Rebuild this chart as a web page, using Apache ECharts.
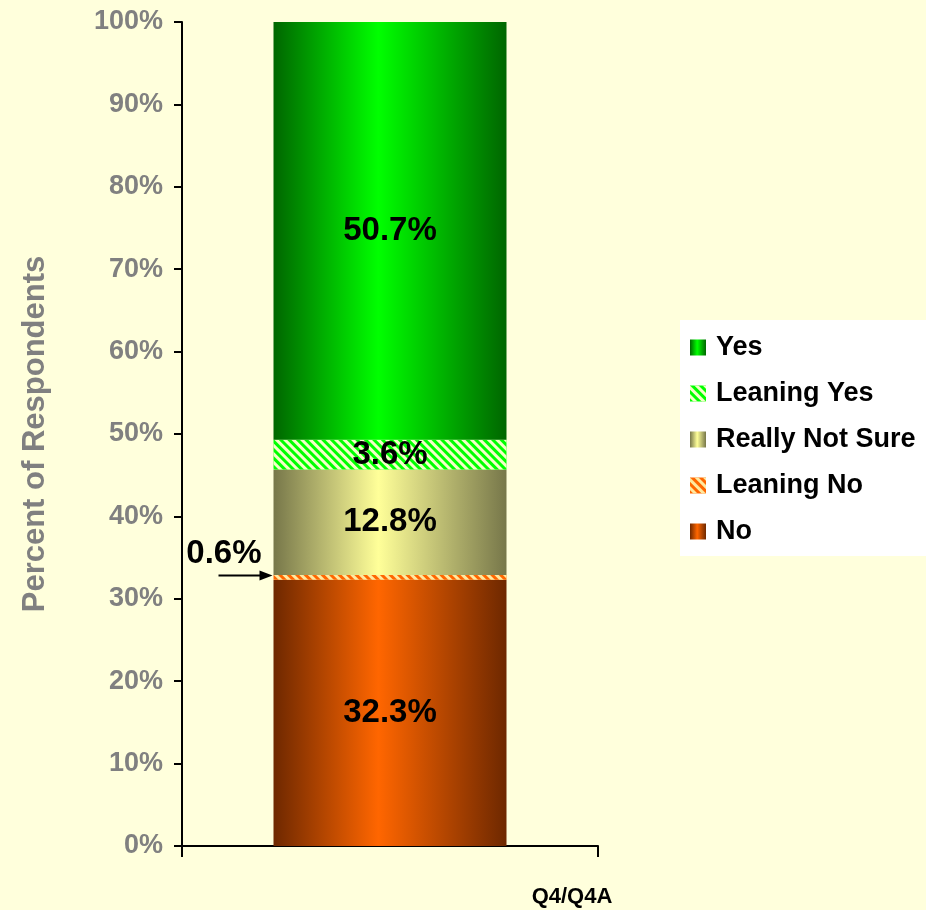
<!DOCTYPE html>
<html>
<head>
<meta charset="utf-8">
<script src="https://cdn.jsdelivr.net/npm/echarts@6/dist/echarts.min.js"></script>
<style>html,body{margin:0;padding:0;background:#FFFFDC;}#c{width:926px;height:910px;}</style>
</head>
<body>
<div id="c"></div>
<script>
// ---- data ----
const categories = ['Q4/Q4A'];
const seriesNames = ['No', 'Leaning No', 'Really Not Sure', 'Leaning Yes', 'Yes'];
const noVals = [32.3];
const leaningNoVals = [0.6];
const notSureVals = [12.8];
const leaningYesVals = [3.6];
const yesVals = [50.7];
const yTicks = [0, 10, 20, 30, 40, 50, 60, 70, 80, 90, 100];

const FONT = 'Arial, "Liberation Sans", sans-serif';
function grad(dark, bright) {
  return { type: 'linear', x: 0, y: 0, x2: 1, y2: 0,
    colorStops: [{ offset: 0, color: dark }, { offset: 0.45, color: bright }, { offset: 1, color: dark }] };
}
function hatch(col) {
  return { symbol: 'rect', symbolSize: 1, color: col, dashArrayX: [1, 0], dashArrayY: [3, 3], rotation: Math.PI / 4 };
}
const labelCommon = { show: true, position: 'inside', color: '#000', fontFamily: FONT, fontWeight: 'bold', fontSize: 33,
  formatter: p => p.value.toFixed(1) + '%' };

const chart = echarts.init(document.getElementById('c'), null, { renderer: 'canvas' });
const option = {
  backgroundColor: '#FFFFDC',
  animation: false,
  grid: { left: 182, right: 328, top: 22, bottom: 64, containLabel: false },
  legend: {
    orient: 'vertical', left: 680, top: 320,
    backgroundColor: '#FFFFFF', padding: [14, 20, 11, 10],
    itemWidth: 16, itemHeight: 16, itemGap: 19,
    data: seriesNames.slice().reverse(),
    textStyle: { fontFamily: FONT, fontWeight: 'bold', fontSize: 27, color: '#000', lineHeight: 24, padding: [0, 0, 0, 5] },
    icon: 'rect'
  },
  xAxis: {
    type: 'category', data: categories,
    axisLine: { lineStyle: { color: '#000', width: 2 } },
    axisTick: { show: true, length: 11, lineStyle: { color: '#000', width: 2 } },
    axisLabel: { show: false },
    name: categories[0], nameLocation: 'end', nameGap: -26,
    nameTextStyle: { fontFamily: FONT, fontWeight: 'bold', fontSize: 22, color: '#000', align: 'center', verticalAlign: 'top', padding: [40, 0, 0, 0] }
  },
  yAxis: {
    type: 'value', min: yTicks[0], max: yTicks[yTicks.length - 1], interval: 10,
    axisLine: { show: true, lineStyle: { color: '#000', width: 2 } },
    axisTick: { show: true, length: 8, lineStyle: { color: '#000', width: 2 } },
    splitLine: { show: false },
    axisLabel: { formatter: '{value}%', margin: 19, color: '#808080', fontFamily: FONT, fontWeight: 'bold', fontSize: 27 },
    name: 'Percent of Respondents', nameLocation: 'middle', nameGap: 131,
    nameTextStyle: { color: '#808080', fontFamily: FONT, fontWeight: 'bold', fontSize: 31 }
  },
  series: [
    { name: seriesNames[0], type: 'bar', stack: 'total', barWidth: 233, data: noVals,
      itemStyle: { color: grad('#6E2800', '#FF6600') }, label: labelCommon },
    { name: seriesNames[1], type: 'bar', stack: 'total', data: leaningNoVals,
      itemStyle: { color: '#FF6600', decal: hatch('#FFE9A0') },
      label: Object.assign({}, labelCommon, { position: 'left', distance: 12, offset: [0, -23] }) },
    { name: seriesNames[2], type: 'bar', stack: 'total', data: notSureVals,
      itemStyle: { color: grad('#77774A', '#FFFF99') }, label: labelCommon },
    { name: seriesNames[3], type: 'bar', stack: 'total', data: leaningYesVals,
      itemStyle: { color: '#00FF00', decal: hatch('#F4FFC8') }, label: labelCommon },
    { name: seriesNames[4], type: 'bar', stack: 'total', data: yesVals,
      itemStyle: { color: grad('#006600', '#00FF00') }, label: labelCommon }
  ]
};
chart.setOption(option);

// arrow pointing at the thin "Leaning No" segment
const yMid = chart.convertToPixel({ yAxisIndex: 0 }, noVals[0] + leaningNoVals[0] / 2);
const xCenter = chart.convertToPixel({ xAxisIndex: 0 }, categories[0]);
const xLeft = xCenter - 233 / 2;
chart.setOption({
  graphic: [
    { type: 'polyline', shape: { points: [[xLeft - 55, yMid - 2], [xLeft - 12, yMid - 2]] }, style: { stroke: '#000', lineWidth: 2 }, z: 10 },
    { type: 'polygon', shape: { points: [[xLeft - 1, yMid - 2], [xLeft - 14, yMid - 7], [xLeft - 14, yMid + 3]] }, style: { fill: '#000' }, z: 10 }
  ]
});
</script>
</body>
</html>
